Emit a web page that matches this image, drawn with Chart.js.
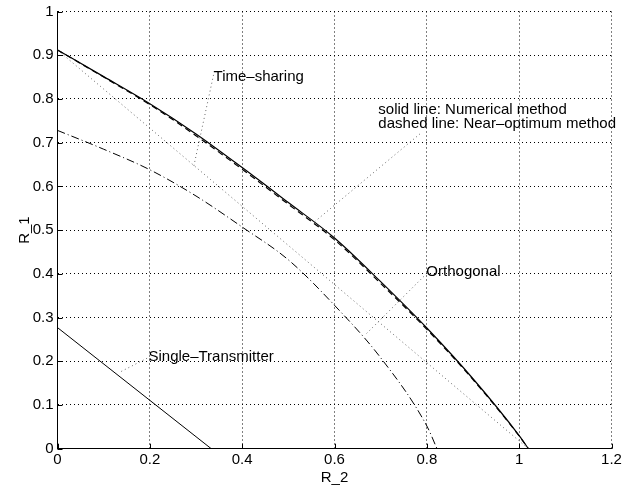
<!DOCTYPE html>
<html>
<head>
<meta charset="utf-8">
<script src="https://cdn.jsdelivr.net/npm/chart.js@4"></script>
<style>
  html, body { margin: 0; padding: 0; background: #fff; }
  #wrap { width: 639px; height: 486px; }
</style>
</head>
<body>
<div id="wrap"><canvas id="rate-chart"></canvas></div>
<script>
// R_2 values and R_1 values
var numX = [0, 0.1, 0.2, 0.3, 0.4, 0.5, 0.6, 0.7, 0.8, 0.9, 1.0, 1.02];
var numY = [0.912, 0.851, 0.789, 0.72, 0.643, 0.563, 0.482, 0.382, 0.276, 0.16, 0.03, 0];
var nearY = [0.912, 0.850, 0.787, 0.716, 0.639, 0.559, 0.478, 0.378, 0.273, 0.158, 0.029, 0];
var orthX = [0, 0.1, 0.2, 0.3, 0.4, 0.5, 0.6, 0.7, 0.8, 0.822];
var orthY = [0.728, 0.685, 0.638, 0.578, 0.507, 0.432, 0.328, 0.208, 0.052, 0];
var tsX = [0, 1.02];
var tsY = [0.912, 0];
var singleX = [0, 0.333];
var singleY = [0.277, 0];
var xTicks = [0, 0.2, 0.4, 0.6, 0.8, 1, 1.2];
var yTicks = [0, 0.1, 0.2, 0.3, 0.4, 0.5, 0.6, 0.7, 0.8, 0.9, 1];

function pts(xs, ys) {
  return xs.map(function (x, i) { return {x: x, y: ys[i]}; });
}

var FONT = '"Liberation Sans", Arial, Helvetica, sans-serif';

// text labels and their dotted pointer lines (data coordinates)
var notes = [
  {text: ['Time\u2013sharing'], x: 0.338, y: 0.851, from: [0.338, 0.855], to: [0.295, 0.645]},
  {text: ['solid line: Numerical method', 'dashed line: Near\u2013optimum method'], x: 0.695, y: 0.776, from: [0.785, 0.72], to: [0.558, 0.52]},
  {text: ['Orthogonal'], x: 0.799, y: 0.404, from: [0.8, 0.401], to: [0.668, 0.262]},
  {text: ['Single\u2013Transmitter'], x: 0.197, y: 0.209, from: [0.194, 0.207], to: [0.133, 0.174]}
];

var notesPlugin = {
  id: 'notes',
  afterDatasetsDraw: function (chart) {
    var ctx = chart.ctx, xs = chart.scales.x, ys = chart.scales.y;
    ctx.save();
    // inward tick marks like the original
    ctx.strokeStyle = '#000';
    ctx.lineWidth = 1;
    ctx.setLineDash([]);
    ctx.beginPath();
    xTicks.forEach(function (v) {
      var px = Math.round(xs.getPixelForValue(v)) + 0.5;
      ctx.moveTo(px, ys.bottom);
      ctx.lineTo(px, ys.bottom - 5);
    });
    yTicks.forEach(function (v) {
      var py = Math.round(ys.getPixelForValue(v)) + 0.5;
      ctx.moveTo(xs.left, py);
      ctx.lineTo(xs.left + 5, py);
    });
    ctx.stroke();

    notes.forEach(function (n) {
      ctx.strokeStyle = '#666';
      ctx.setLineDash([1, 3]);
      ctx.beginPath();
      ctx.moveTo(xs.getPixelForValue(n.from[0]), ys.getPixelForValue(n.from[1]));
      ctx.lineTo(xs.getPixelForValue(n.to[0]), ys.getPixelForValue(n.to[1]));
      ctx.stroke();
      ctx.setLineDash([]);
      ctx.fillStyle = '#000';
      ctx.font = '15px ' + FONT;
      ctx.textAlign = 'left';
      ctx.textBaseline = 'middle';
      n.text.forEach(function (t, i) {
        ctx.fillText(t, xs.getPixelForValue(n.x), ys.getPixelForValue(n.y) + i * 14.3);
      });
    });
    ctx.restore();
  }
};

var chart = new Chart(document.getElementById('rate-chart'), {
  type: 'scatter',
  data: {
    datasets: [{
        label: 'Numerical method',
        data: pts(numX, numY),
        showLine: true,
        borderColor: '#000',
        borderWidth: 1.2,
        pointRadius: 0,
        cubicInterpolationMode: 'monotone'
      }, {
        label: 'Near-optimum method',
        data: pts(numX, nearY),
        showLine: true,
        borderColor: '#000',
        borderWidth: 1.2,
        borderDash: [6, 4],
        pointRadius: 0,
        cubicInterpolationMode: 'monotone'
      }, {
        label: 'Orthogonal',
        data: pts(orthX, orthY),
        showLine: true,
        borderColor: '#000',
        borderWidth: 1,
        borderDash: [8, 3, 1, 3],
        pointRadius: 0,
        cubicInterpolationMode: 'monotone'
      }, {
        label: 'Time-sharing',
        data: pts(tsX, tsY),
        showLine: true,
        borderColor: '#666',
        borderWidth: 1,
        borderDash: [1, 3],
        pointRadius: 0
      }, {
        label: 'Single-Transmitter',
        data: pts(singleX, singleY),
        showLine: true,
        borderColor: '#000',
        borderWidth: 1,
        pointRadius: 0
      }
    ]
  },
  options: {
    responsive: true,
    maintainAspectRatio: false,
    animation: false,
    layout: { padding: { left: 0, right: 27.5, top: 11, bottom: 0 } },
    plugins: {
      legend: { display: false },
      tooltip: { enabled: false }
    },
    scales: {
      x: {
        type: 'linear',
        min: 0,
        max: 1.2,
        afterFit: function (s) { s.height = 37.3; },
        afterBuildTicks: function (s) { s.ticks = xTicks.map(function (v) { return {value: v}; }); },
        grid: { color: '#000', lineWidth: 1, drawTicks: false },
        border: { display: true, color: '#000', width: 1, dash: [1, 3] },
        ticks: {
          color: '#000',
          padding: 4,
          maxRotation: 0,
          font: { family: FONT, size: 15, lineHeight: 1 },
          callback: function (v) { return String(v); }
        },
        title: {
          display: true,
          text: 'R_2',
          color: '#000',
          padding: { top: 0, bottom: 0.5 },
          font: { family: FONT, size: 15, lineHeight: 1 }
        }
      },
      y: {
        type: 'linear',
        min: 0,
        max: 1,
        afterFit: function (s) { s.width = 57.5; },
        afterBuildTicks: function (s) { s.ticks = yTicks.map(function (v) { return {value: v}; }); },
        grid: { color: '#000', lineWidth: 1, drawTicks: false },
        border: { display: true, color: '#000', width: 1, dash: [1, 3] },
        ticks: {
          color: '#000',
          padding: 4,
          font: { family: FONT, size: 15, lineHeight: 1 },
          callback: function (v) { return String(v); }
        },
        title: {
          display: true,
          text: 'R_1',
          color: '#000',
          padding: { top: 17.5, bottom: 0 },
          font: { family: FONT, size: 15, lineHeight: 1 }
        }
      }
    }
  },
  plugins: [notesPlugin]
});
</script>
</body>
</html>
